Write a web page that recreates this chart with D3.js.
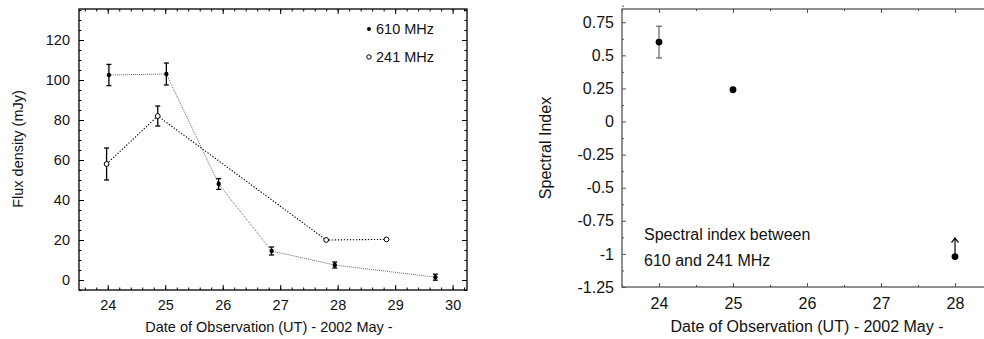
<!DOCTYPE html>
<html>
<head>
<meta charset="utf-8">
<script src="https://cdn.jsdelivr.net/npm/d3@7"></script>
<style>
  body { margin: 0; background: #fff; }
  svg { display: block; font-family: "Liberation Sans", Arial, Helvetica, sans-serif; }
  .axis .domain { display: none; }
</style>
</head>
<body>
<svg id="chart" width="984" height="339"></svg>
<script>
// left panel: flux density
const days610 = [24.02, 25.02, 25.93, 26.85, 27.95, 29.7];
const flux610 = [102.5, 103, 48, 14.5, 7.5, 1.4];
const err610 = [5.3, 5.5, 2.7, 2, 1.5, 1.5];

const days241 = [23.98, 24.87, 27.8, 28.85];
const flux241 = [58, 82, 20, 20.3];
const err241 = [8, 5, 0, 0];

const fluxTicks = [0, 20, 40, 60, 80, 100, 120];
const dayTicksLeft = [24, 25, 26, 27, 28, 29, 30];

// right panel: spectral index
const specDays = [24, 25, 28];
const specIndex = [0.6, 0.24, -1.02];
const specErr = [0.12, 0, 0];
const specLimitTop = [null, null, -0.88]; // lower limit arrow

const indexTicks = [-1.25, -1, -0.75, -0.5, -0.25, 0, 0.25, 0.5, 0.75];
const dayTicksRight = [24, 25, 26, 27, 28];

const svg = d3.select('#chart');
const fmtDay = d3.format('d');

function minorRange(a, b, step) {
  const out = [];
  const n = Math.round((b - a) / step);
  for (let i = 0; i <= n; i++) out.push(+(a + i * step).toFixed(4));
  return out;
}

// ---------- left panel ----------
const L = { left: 79, right: 467, top: 9, bottom: 290 };
const xL = d3.scaleLinear().domain([23.5, 30.25]).range([L.left, L.right]);
const yL = d3.scaleLinear().domain([-5, 135.5]).range([L.bottom, L.top]);

const gL = svg.append('g').attr('class', 'left');
const fsL = '14.5px';

function ticksGroup(g, axis, transform) {
  g.append('g').attr('class', 'axis').attr('transform', transform).call(axis)
    .call(s => s.selectAll('line').attr('stroke', 'currentColor'));
}

// bottom
ticksGroup(gL, d3.axisBottom(xL).tickValues(dayTicksLeft).tickFormat(fmtDay).tickSize(-5).tickPadding(10).tickSizeOuter(0),
  `translate(0,${L.bottom})`);
ticksGroup(gL, d3.axisBottom(xL).tickValues(minorRange(23.6, 30.2, 0.2)).tickSize(-2.5).tickFormat('').tickSizeOuter(0),
  `translate(0,${L.bottom})`);
// top
ticksGroup(gL, d3.axisTop(xL).tickValues(dayTicksLeft).tickSize(-5).tickFormat('').tickSizeOuter(0),
  `translate(0,${L.top})`);
ticksGroup(gL, d3.axisTop(xL).tickValues(minorRange(23.6, 30.2, 0.2)).tickSize(-2.5).tickFormat('').tickSizeOuter(0),
  `translate(0,${L.top})`);
// left
ticksGroup(gL, d3.axisLeft(yL).tickValues(fluxTicks).tickSize(-5).tickPadding(9).tickSizeOuter(0),
  `translate(${L.left},0)`);
ticksGroup(gL, d3.axisLeft(yL).tickValues(minorRange(-5, 135, 5)).tickSize(-2.5).tickFormat('').tickSizeOuter(0),
  `translate(${L.left},0)`);
// right
ticksGroup(gL, d3.axisRight(yL).tickValues(fluxTicks).tickSize(-5).tickFormat('').tickSizeOuter(0),
  `translate(${L.right},0)`);
ticksGroup(gL, d3.axisRight(yL).tickValues(minorRange(-5, 135, 5)).tickSize(-2.5).tickFormat('').tickSizeOuter(0),
  `translate(${L.right},0)`);

gL.selectAll('.axis text').attr('font-size', fsL).attr('font-family', null).attr('fill', '#111');

gL.append('rect')
  .attr('x', L.left).attr('y', L.top)
  .attr('width', L.right - L.left).attr('height', L.bottom - L.top)
  .attr('fill', 'none').attr('stroke', '#000').attr('stroke-width', 1.3);

const pts610 = days610.map((d, i) => ({ x: d, y: flux610[i], e: err610[i] }));
const pts241 = days241.map((d, i) => ({ x: d, y: flux241[i], e: err241[i] }));

const lineL = d3.line().x(d => xL(d.x)).y(d => yL(d.y));

gL.append('path').datum(pts610)
  .attr('d', lineL).attr('fill', 'none')
  .attr('stroke', '#666').attr('stroke-width', 1).attr('stroke-dasharray', '1,1');
gL.append('path').datum(pts241)
  .attr('d', lineL).attr('fill', 'none')
  .attr('stroke', '#000').attr('stroke-width', 1.1).attr('stroke-dasharray', '1.3,1.7');

function errBars(g, pts, xs, ys, cap, color, width) {
  const eb = g.append('g').selectAll('g').data(pts.filter(d => d.e > 0)).join('g');
  eb.append('line')
    .attr('x1', d => xs(d.x)).attr('x2', d => xs(d.x))
    .attr('y1', d => ys(d.y - d.e)).attr('y2', d => ys(d.y + d.e))
    .attr('stroke', color).attr('stroke-width', width);
  eb.append('line')
    .attr('x1', d => xs(d.x) - cap).attr('x2', d => xs(d.x) + cap)
    .attr('y1', d => ys(d.y + d.e)).attr('y2', d => ys(d.y + d.e))
    .attr('stroke', color).attr('stroke-width', width);
  eb.append('line')
    .attr('x1', d => xs(d.x) - cap).attr('x2', d => xs(d.x) + cap)
    .attr('y1', d => ys(d.y - d.e)).attr('y2', d => ys(d.y - d.e))
    .attr('stroke', color).attr('stroke-width', width);
}

errBars(gL, pts610, xL, yL, 2.5, '#000', 1.3);
errBars(gL, pts241, xL, yL, 2.5, '#000', 1.3);

gL.append('g').selectAll('circle').data(pts610).join('circle')
  .attr('cx', d => xL(d.x)).attr('cy', d => yL(d.y)).attr('r', 2.2).attr('fill', '#000');
gL.append('g').selectAll('circle').data(pts241).join('circle')
  .attr('cx', d => xL(d.x)).attr('cy', d => yL(d.y)).attr('r', 2.4)
  .attr('fill', '#fff').attr('stroke', '#000').attr('stroke-width', 1);

// legend
gL.append('circle').attr('cx', 369).attr('cy', 29).attr('r', 2).attr('fill', '#000');
gL.append('text').attr('x', 376).attr('y', 34).attr('font-size', fsL).attr('fill', '#111').text('610 MHz');
gL.append('circle').attr('cx', 369).attr('cy', 57).attr('r', 2.2)
  .attr('fill', '#fff').attr('stroke', '#000').attr('stroke-width', 1);
gL.append('text').attr('x', 376).attr('y', 62).attr('font-size', fsL).attr('fill', '#111').text('241 MHz');

gL.append('text').attr('x', 269).attr('y', 332).attr('text-anchor', 'middle')
  .attr('font-size', fsL).attr('fill', '#111').text('Date of Observation (UT) - 2002 May -');
gL.append('text').attr('transform', 'translate(23,149) rotate(-90)').attr('text-anchor', 'middle')
  .attr('font-size', fsL).attr('fill', '#111').text('Flux density (mJy)');

// ---------- right panel ----------
const R = { left: 622, right: 992, top: 9, bottom: 287 };
const xR = d3.scaleLinear().domain([23.5, 28.5]).range([R.left, R.right]);
const yR = d3.scaleLinear().domain([-1.25, 0.85]).range([R.bottom, R.top]);

const gR = svg.append('g').attr('class', 'right').attr('color', '#555');
const fsR = '16px';

ticksGroup(gR, d3.axisBottom(xR).tickValues(dayTicksRight).tickFormat(fmtDay).tickSize(-4).tickPadding(11).tickSizeOuter(0),
  `translate(0,${R.bottom})`);
ticksGroup(gR, d3.axisBottom(xR).tickValues(minorRange(23.5, 28.5, 0.5)).tickSize(-2).tickFormat('').tickSizeOuter(0),
  `translate(0,${R.bottom})`);
ticksGroup(gR, d3.axisTop(xR).tickValues(dayTicksRight).tickSize(-4).tickFormat('').tickSizeOuter(0),
  `translate(0,${R.top})`);
ticksGroup(gR, d3.axisTop(xR).tickValues(minorRange(23.5, 28.5, 0.5)).tickSize(-2).tickFormat('').tickSizeOuter(0),
  `translate(0,${R.top})`);
ticksGroup(gR, d3.axisLeft(yR).tickValues(indexTicks).tickSize(-4).tickPadding(8).tickSizeOuter(0)
  .tickFormat(d => d === 0 ? '0' : String(d)),
  `translate(${R.left},0)`);
ticksGroup(gR, d3.axisLeft(yR).tickValues(minorRange(-1.125, 0.875, 0.25)).tickSize(-2).tickFormat('').tickSizeOuter(0),
  `translate(${R.left},0)`);

gR.selectAll('.axis text').attr('font-size', fsR).attr('font-family', null).attr('fill', '#111');

gR.append('rect')
  .attr('x', R.left).attr('y', R.top)
  .attr('width', R.right - R.left).attr('height', R.bottom - R.top)
  .attr('fill', 'none').attr('stroke', '#555').attr('stroke-width', 1.3);

const ptsR = specDays.map((d, i) => ({ x: d, y: specIndex[i], e: specErr[i], top: specLimitTop[i] }));

errBars(gR, ptsR, xR, yR, 3, '#444', 1);

// lower-limit arrows
const arrows = gR.append('g').selectAll('g').data(ptsR.filter(d => d.top !== null)).join('g')
  .attr('stroke', '#000').attr('stroke-width', 1.2).attr('fill', 'none');
arrows.append('line')
  .attr('x1', d => xR(d.x)).attr('x2', d => xR(d.x))
  .attr('y1', d => yR(d.y)).attr('y2', d => yR(d.top));
arrows.append('path')
  .attr('d', d => `M${xR(d.x) - 3.5},${yR(d.top) + 4.5}L${xR(d.x)},${yR(d.top)}L${xR(d.x) + 3.5},${yR(d.top) + 4.5}`);

gR.append('g').selectAll('circle').data(ptsR).join('circle')
  .attr('cx', d => xR(d.x)).attr('cy', d => yR(d.y)).attr('r', 3.4).attr('fill', '#000');

gR.append('text').attr('x', 644).attr('y', 240).attr('font-size', fsR).attr('fill', '#111')
  .text('Spectral index between');
gR.append('text').attr('x', 644).attr('y', 266).attr('font-size', fsR).attr('fill', '#111')
  .text('610 and 241 MHz');

gR.append('text').attr('x', 807).attr('y', 332).attr('text-anchor', 'middle')
  .attr('font-size', fsR).attr('fill', '#111').text('Date of Observation (UT) - 2002 May -');
gR.append('text').attr('transform', 'translate(551,148) rotate(-90)').attr('text-anchor', 'middle')
  .attr('font-size', fsR).attr('fill', '#111').text('Spectral Index');
</script>
</body>
</html>
